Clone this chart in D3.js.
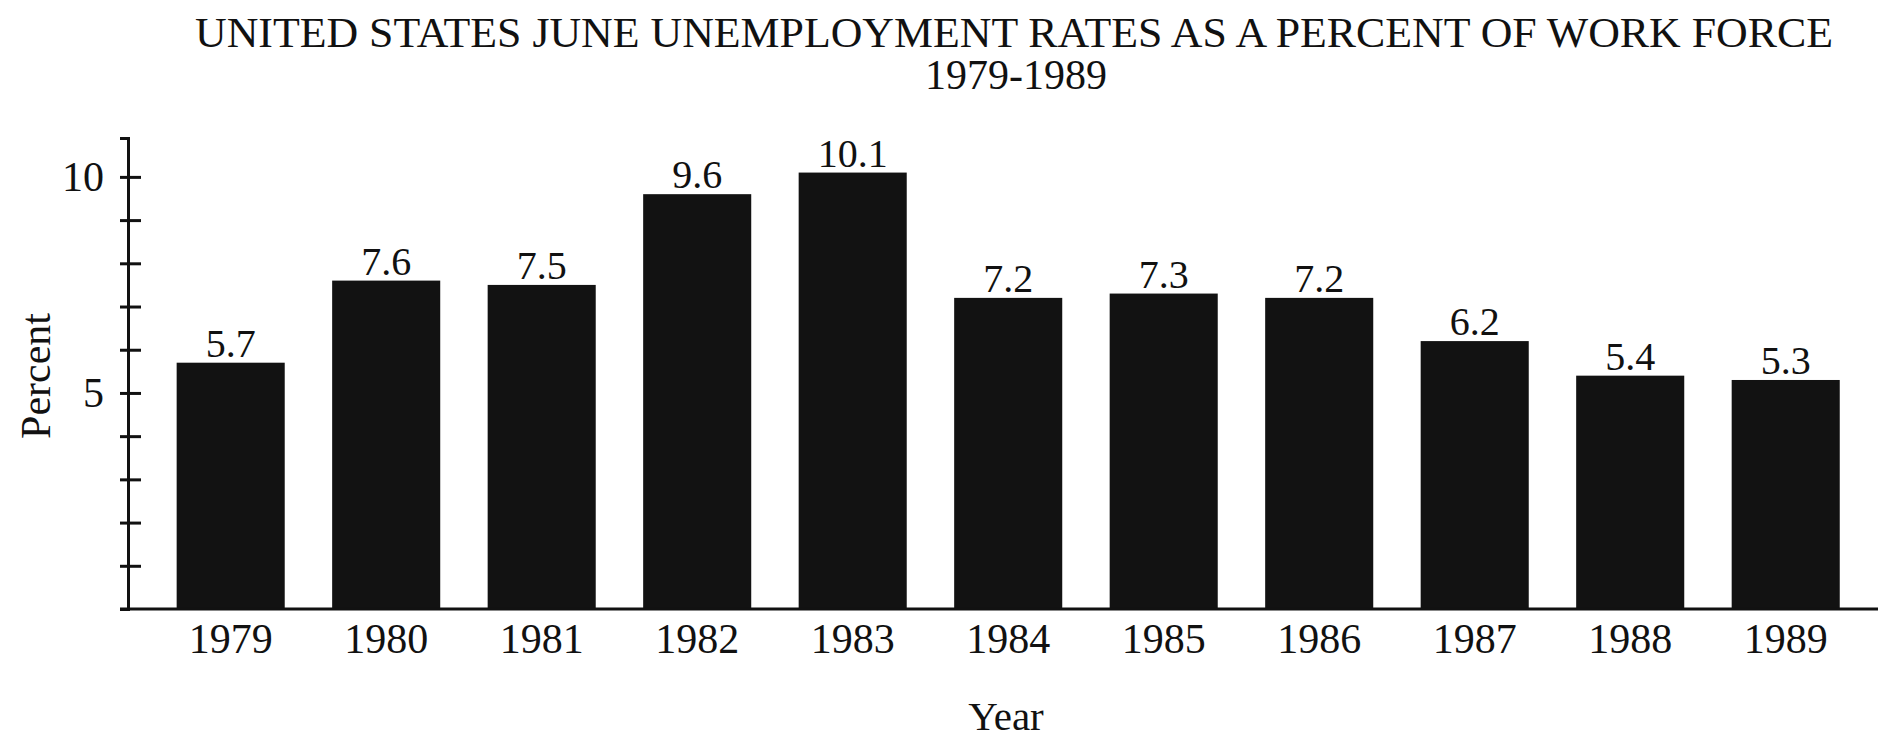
<!DOCTYPE html>
<html>
<head>
<meta charset="utf-8">
<script src="https://cdn.jsdelivr.net/npm/d3@7"></script>
<style>
  html, body { margin: 0; padding: 0; background: #fff; }
  svg { display: block; }
  text { font-family: "Liberation Serif", "Times New Roman", serif; fill: #111; }
</style>
</head>
<body>
<svg id="chart" width="1878" height="741"></svg>
<script>
const years = ["1979","1980","1981","1982","1983","1984","1985","1986","1987","1988","1989"];
const rates = [5.7, 7.6, 7.5, 9.6, 10.1, 7.2, 7.3, 7.2, 6.2, 5.4, 5.3];
const yTicks = [1,2,3,4,5,6,7,8,9,10];
const yTickLabels = {5: "5", 10: "10"};
const titleLine1 = "UNITED STATES JUNE UNEMPLOYMENT RATES AS A PERCENT OF WORK FORCE";
const titleLine2 = "1979-1989";
const xTitle = "Year";
const yTitle = "Percent";

(function () {
const W = 1878, H = 741;
const svg = d3.select("#chart");
const baseY = 609, topY = 138, axisX = 128;

const x = d3.scaleBand().domain(years).range([130, 1886.4]).paddingInner(0.305).paddingOuter(0.3);
const y = d3.scaleLinear().domain([0, 10.9]).range([baseY, topY]);

// bars
svg.append("g").selectAll("rect").data(rates).join("rect")
  .attr("x", (d, i) => x(years[i]))
  .attr("y", d => y(d))
  .attr("width", x.bandwidth())
  .attr("height", d => baseY - y(d))
  .attr("fill", "#121212");

// value labels
svg.append("g").selectAll("text").data(rates).join("text")
  .attr("x", (d, i) => x(years[i]) + x.bandwidth() / 2)
  .attr("y", d => y(d) - 6)
  .attr("text-anchor", "middle")
  .attr("font-size", 40)
  .text(d => d.toFixed(1));

// x axis
const xAxis = svg.append("g").attr("transform", `translate(0,${baseY})`)
  .call(d3.axisBottom(x).tickSize(0).tickPadding(14));
xAxis.select(".domain").remove();
xAxis.selectAll("text").attr("font-size", 42).attr("fill", "#111")
  .style("font-family", '"Liberation Serif", "Times New Roman", serif');
svg.append("line").attr("x1", axisX - 8).attr("x2", W).attr("y1", baseY).attr("y2", baseY)
  .attr("stroke", "#111").attr("stroke-width", 3);

// y axis
const yAxis = svg.append("g").attr("transform", `translate(${axisX},0)`)
  .call(d3.axisLeft(y).tickValues(yTicks).tickSizeOuter(0).tickSize(8).tickPadding(16)
    .tickFormat(d => yTickLabels[d] || ""));
yAxis.select(".domain").attr("stroke", "#111").attr("stroke-width", 3);
yAxis.selectAll(".tick line").attr("x1", 13).attr("x2", -8).attr("stroke", "#111").attr("stroke-width", 3);
yAxis.selectAll("text").attr("font-size", 42).attr("fill", "#111")
  .style("font-family", '"Liberation Serif", "Times New Roman", serif');

// titles
svg.append("text").attr("x", 1014).attr("y", 47).attr("text-anchor", "middle")
  .attr("font-size", 42).attr("textLength", 1638).attr("lengthAdjust", "spacingAndGlyphs")
  .text(titleLine1);
svg.append("text").attr("x", 1016).attr("y", 89).attr("text-anchor", "middle")
  .attr("font-size", 42).text(titleLine2);
svg.append("text").attr("x", 1006).attr("y", 730).attr("text-anchor", "middle")
  .attr("font-size", 41).text(xTitle);
svg.append("text").attr("transform", "translate(50,376) rotate(-90)").attr("text-anchor", "middle")
  .attr("font-size", 42).text(yTitle);
})();
</script>
</body>
</html>
